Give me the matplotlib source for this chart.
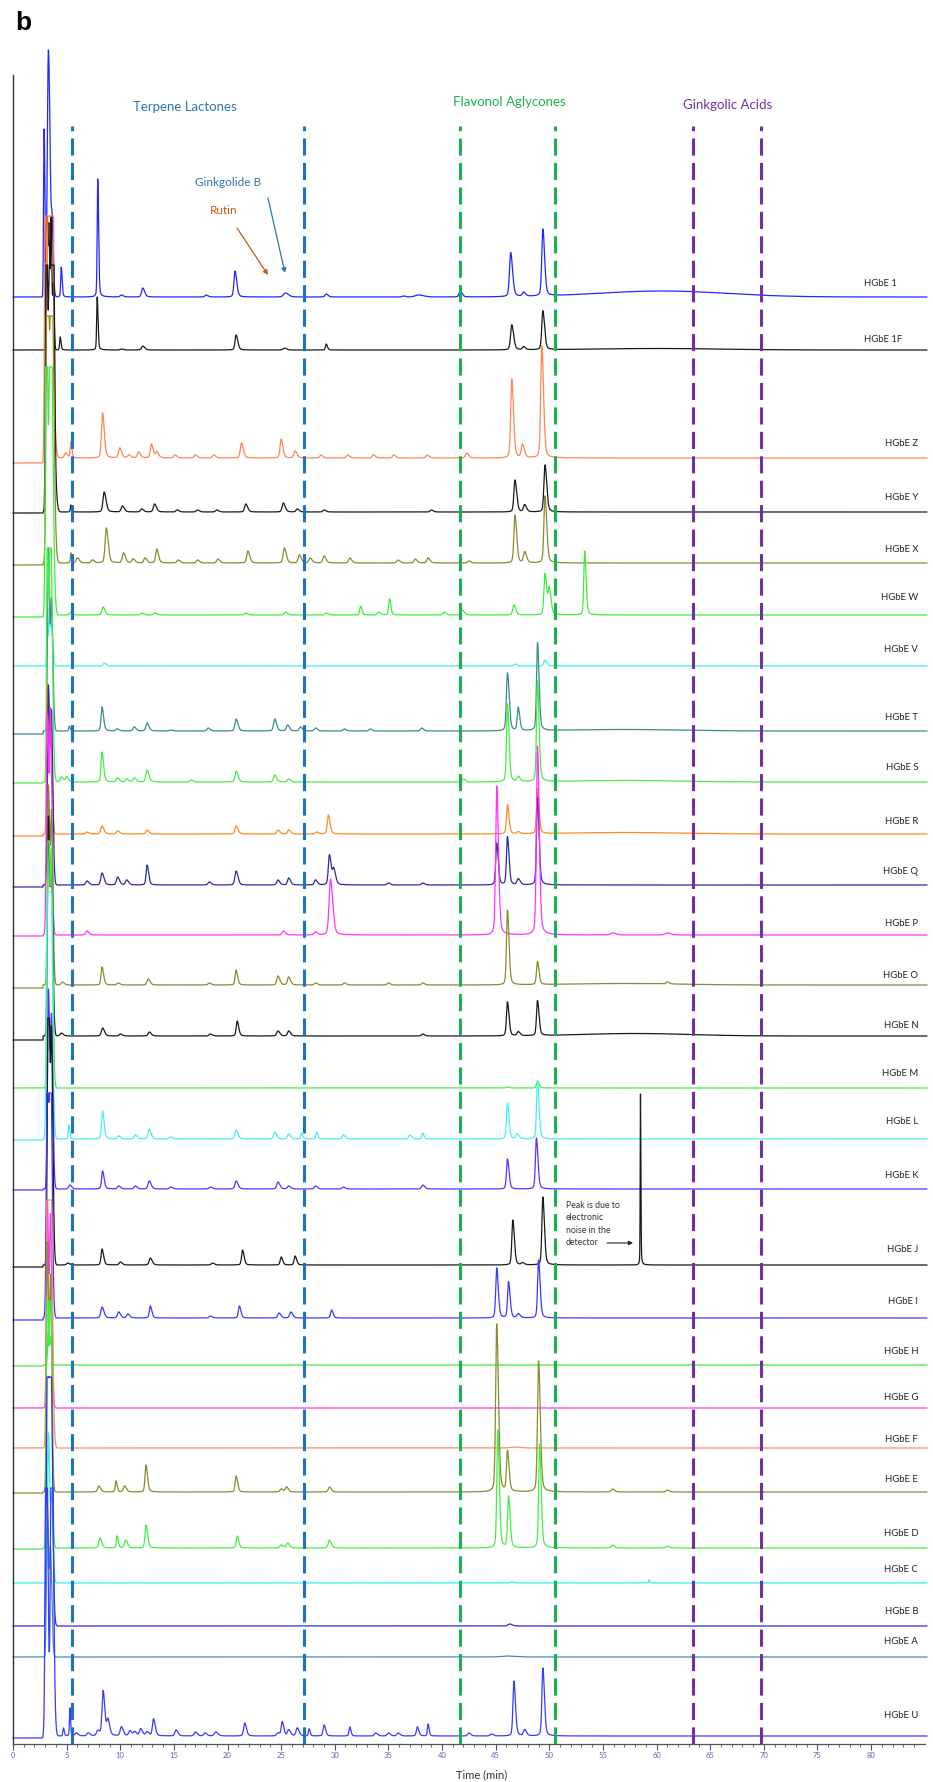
import numpy as np
import matplotlib
matplotlib.use("Agg")
import matplotlib.pyplot as plt

# ---------------------------------------------------------------- samples
sample_names = ["HGbE 1", "HGbE 1F", "HGbE Z", "HGbE Y", "HGbE X", "HGbE W",
                "HGbE V", "HGbE T", "HGbE S", "HGbE R", "HGbE Q", "HGbE P",
                "HGbE O", "HGbE N", "HGbE M", "HGbE L", "HGbE K", "HGbE J",
                "HGbE I", "HGbE H", "HGbE G", "HGbE F", "HGbE E", "HGbE D",
                "HGbE C", "HGbE B", "HGbE A", "HGbE U"]

trace_colors = ["#2424ff", "#1a1a1a", "#ff8555", "#1a1a1a", "#8c8a2c", "#3cee3c",
                "#45f0f0", "#3a8c8c", "#44ee44", "#ff8a22", "#2c2ca2", "#ff33ff",
                "#8c8a2c", "#1a1a1a", "#44ee44", "#45f0f0", "#5c30ff", "#1a1a1a",
                "#3a3aff", "#3cee3c", "#ff33ff", "#ff8c62", "#8c8a2c", "#44ee44",
                "#30f0f0", "#2a2ae6", "#3c8cc8", "#3a3aff"]

# stacking offset of each trace (signal units)
trace_offsets = [1447, 1394, 1286, 1232, 1181, 1129, 1078, 1013, 962, 910,
                 859, 809, 759, 708, 656, 605, 555, 479, 426, 379, 336, 296,
                 252, 196, 161, 118, 87, 8]

# sample label: height above its trace and right end (min)
label_rise = [13, 10, 14, 14, 13, 17, 17, 14, 14, 13, 13, 11, 10, 11, 14, 17,
              13, 16, 16, 13, 11, 9, 12, 15, 13, 15, 15, 20]
label_right = [82.4, 82.9] + [84.4] * 26

# detector saturation ceiling per trace (None = not saturated)
saturation = [None, None, 242, 247, 247, 248, None, None, 234, None, None, None,
              None, None, 247, 247, None, 247, 225, None, None, 248, None, 247,
              None, 249, None, 248]

# baseline level before the injection front (relative to the trace)
pre_injection_shift = [0, 0, -5, -1, -2, -2, 0, -3, -1, -2, -2, -1, -3, -4, 0,
                       -1, -1, -2, -2, -1, 0, 0, -1, -1, 0, 0, 0, -2]

# detected peaks: (retention time [min], height, optional sigma [min])
peaks_1 = [(2.9, 168, 0.05), (3.3, 247, 0.1), (3.65, 60, 0.07), (4.5, 30, 0.05),
           (7.9, 118, 0.05), (10.1, 2), (12.1, 9), (18.0, 2), (20.7, 26, 0.1),
           (25.4, 4, 0.18), (29.2, 3), (36.4, 1), (37.8, 2, 0.3), (41.7, 6),
           (46.4, 44, 0.11), (47.6, 4), (49.4, 67, 0.1), (60.5, 6, 6.0)]
peaks_1F = [(3.15, 133, 0.06), (3.35, 110, 0.06), (3.55, 120, 0.05), (3.75, 60, 0.05),
            (4.4, 13, 0.05), (7.85, 53, 0.05), (10.1, 1), (12.1, 4), (20.8, 15, 0.1),
            (25.3, 2), (29.2, 6, 0.07), (46.5, 25, 0.11), (47.6, 3), (49.4, 39, 0.1),
            (60.0, 1.5, 6.0)]
peaks_Z = [(3.0, 300, 0.06), (3.4, 400, 0.15), (3.7, 250, 0.05), (4.9, 5), (5.4, 16, 0.06),
           (8.35, 45, 0.1), (9.95, 10), (10.8, 3), (11.7, 6), (12.9, 14, 0.1), (13.4, 6),
           (15.1, 3), (17.0, 3), (18.7, 3), (21.3, 15), (25.0, 19, 0.1), (26.3, 7),
           (28.7, 3), (31.2, 3), (33.6, 3), (35.5, 3), (38.6, 3), (42.3, 5),
           (46.5, 79, 0.1), (47.5, 13), (49.3, 112, 0.1)]
peaks_Y = [(3.1, 300, 0.07), (3.5, 350, 0.15), (3.8, 120, 0.05), (5.4, 7, 0.05),
           (8.5, 20), (10.2, 6), (12.0, 3), (13.2, 8), (15.3, 2), (17.2, 2), (19.0, 2),
           (21.7, 8), (25.2, 9), (26.5, 3), (29.0, 2), (39.0, 2), (46.8, 32, 0.1),
           (47.7, 7), (49.6, 47, 0.1)]
peaks_X = [(3.2, 350, 0.1), (3.6, 300, 0.12), (5.4, 10, 0.05), (6.0, 5), (7.4, 3),
           (8.7, 35, 0.11), (10.3, 10), (11.2, 4), (12.3, 5), (13.4, 14, 0.1), (15.4, 3),
           (17.2, 3), (19.1, 4), (21.9, 12), (25.3, 15), (26.7, 8), (27.7, 5), (29.0, 7),
           (31.4, 5), (35.9, 3), (37.5, 4), (38.7, 5), (42.5, 2), (46.8, 48, 0.1),
           (47.7, 11), (49.6, 67, 0.1)]
peaks_W = [(3.1, 350, 0.08), (3.5, 350, 0.12), (5.4, 3), (8.4, 8), (12.0, 2), (13.2, 2),
           (21.7, 2), (25.4, 3), (29.2, 2), (32.4, 9, 0.08), (34.1, 3), (35.1, 16, 0.08),
           (40.2, 3), (41.9, 5), (46.7, 10), (49.6, 41, 0.1), (50.0, 25, 0.1),
           (53.3, 64, 0.08)]
peaks_V = [(3.2, 50, 0.05), (3.4, 55, 0.05), (3.6, 40, 0.07), (8.5, 3), (46.8, 2),
           (49.6, 6)]
peaks_T = [(3.3, 183, 0.08), (3.6, 120, 0.08), (5.25, 5, 0.05), (8.3, 24, 0.09), (9.7, 2),
           (11.3, 4), (12.5, 8), (14.7, 1), (18.2, 3), (20.8, 12), (24.4, 12), (25.6, 6),
           (26.8, 4), (28.2, 3), (30.9, 2), (33.3, 2), (38.1, 3), (46.1, 58, 0.1),
           (47.1, 23, 0.09), (48.9, 88, 0.09), (57.0, 1.5, 5.0)]
peaks_S = [(3.2, 240, 0.07), (3.5, 260, 0.1), (4.5, 5), (5.0, 5), (8.3, 30, 0.09),
           (9.75, 4), (10.6, 3), (11.3, 4), (12.5, 12), (16.6, 2), (20.8, 11), (24.4, 7),
           (25.7, 3), (42.0, 3), (46.1, 78, 0.09), (47.1, 5), (48.9, 101, 0.09),
           (57.0, 1.5, 5.0)]
peaks_R = [(3.2, 150, 0.07), (3.5, 120, 0.08), (6.9, 2), (8.3, 8), (9.75, 3), (12.5, 4),
           (20.8, 8), (24.7, 4), (25.7, 4), (28.3, 2), (29.4, 19, 0.1), (46.1, 29, 0.09),
           (47.1, 2), (48.9, 45, 0.09), (57.0, 1.5, 5.0)]
peaks_Q = [(3.3, 200, 0.09), (3.6, 150, 0.08), (6.9, 4), (8.3, 12), (9.75, 8), (10.6, 5),
           (12.5, 20, 0.09), (18.3, 3), (20.8, 14), (24.7, 5), (25.7, 7), (28.2, 5),
           (29.5, 30, 0.1), (29.9, 15), (35.0, 2), (38.2, 2), (45.1, 42, 0.09),
           (46.1, 48, 0.09), (47.1, 6), (48.9, 88, 0.09)]
peaks_P = [(3.2, 220, 0.09), (3.5, 200, 0.08), (6.9, 4), (25.2, 4), (28.2, 3),
           (29.6, 56, 0.13), (45.1, 149, 0.1), (48.9, 189, 0.1), (55.9, 2, 0.2),
           (61.0, 2, 0.2)]
peaks_O = [(3.3, 200, 0.09), (3.6, 150, 0.08), (4.6, 3), (8.3, 18, 0.09), (9.8, 2),
           (12.6, 6), (18.3, 2), (20.8, 15, 0.09), (24.7, 9), (25.7, 8), (28.2, 2),
           (30.9, 2), (35.0, 2), (38.2, 2), (46.1, 75, 0.09), (48.9, 23, 0.09),
           (57.0, 1.5, 5.0), (61.0, 2)]
peaks_N = [(3.3, 220, 0.09), (3.6, 150, 0.08), (4.5, 3), (8.35, 8), (10.0, 2), (12.7, 4),
           (18.4, 2), (20.9, 15, 0.09), (24.7, 5), (25.7, 5), (38.2, 2), (46.1, 34, 0.09),
           (47.1, 4), (48.9, 35, 0.09), (58.0, 2.5, 5.0)]
peaks_M = [(3.3, 300, 0.09), (3.6, 200, 0.08), (46.1, 1), (48.9, 7, 0.09)]
peaks_L = [(3.2, 300, 0.09), (3.5, 300, 0.1), (5.2, 14, 0.05), (8.35, 28, 0.09),
           (9.85, 3), (11.4, 4), (12.7, 10), (14.7, 2), (20.8, 9), (24.4, 7), (25.7, 5),
           (26.9, 6, 0.07), (28.3, 7, 0.07), (30.8, 4), (37.0, 4), (38.2, 6, 0.07),
           (46.1, 36, 0.09), (47.0, 5), (48.9, 58, 0.09)]
peaks_K = [(3.3, 200, 0.09), (3.6, 150, 0.08), (5.3, 4), (8.35, 18, 0.09), (9.85, 3),
           (11.4, 3), (12.7, 8), (14.7, 2), (18.4, 2), (20.8, 8), (24.7, 7), (25.7, 3),
           (28.2, 3), (30.8, 2), (38.2, 4), (46.1, 30, 0.09), (48.8, 51, 0.09)]
peaks_J = [(3.3, 300, 0.09), (3.6, 200, 0.08), (5.1, 2), (8.3, 16, 0.09), (10.0, 3),
           (12.8, 7), (18.6, 2), (21.4, 15, 0.09), (25.0, 8, 0.09), (26.3, 9, 0.09),
           (46.6, 45, 0.09), (47.5, 2), (49.4, 68, 0.09), (58.5, 171, 0.025)]
peaks_I = [(3.2, 260, 0.09), (3.5, 260, 0.09), (8.3, 11), (9.85, 6), (10.7, 4),
           (12.8, 12, 0.09), (18.4, 2), (21.1, 12, 0.09), (24.8, 5), (25.9, 6),
           (29.7, 8, 0.09), (45.1, 50, 0.09), (46.2, 36, 0.09), (47.1, 4), (49.0, 58, 0.09)]
peaks_H = [(3.3, 35, 0.07), (3.55, 25, 0.06)]
peaks_G = [(3.2, 208, 0.08), (3.5, 180, 0.08)]
peaks_F = [(3.2, 300, 0.09), (3.5, 300, 0.1), (46.7, 1, 0.3)]
peaks_E = [(3.2, 250, 0.08), (3.5, 200, 0.08), (8.0, 6), (9.6, 11, 0.07), (10.4, 6),
           (12.4, 27, 0.09), (20.8, 16, 0.09), (25.0, 3), (25.5, 5), (29.5, 5),
           (45.1, 168, 0.1), (46.1, 40, 0.09), (49.0, 131, 0.1), (55.9, 3), (61.0, 2)]
peaks_D = [(3.2, 300, 0.08), (3.5, 300, 0.08), (8.1, 10), (9.7, 12, 0.07), (10.5, 8),
           (12.4, 23, 0.09), (20.9, 12, 0.09), (25.0, 3), (25.6, 5), (29.5, 8),
           (45.2, 118, 0.09), (46.2, 51, 0.09), (49.1, 104, 0.09), (55.9, 3), (61.0, 2)]
peaks_C = [(3.3, 150, 0.08), (3.6, 80, 0.08), (46.5, 1), (59.3, 3, 0.05)]
peaks_B = [(3.2, 300, 0.08), (3.5, 300, 0.1), (46.3, 2, 0.15)]
peaks_A = [(3.2, 150, 0.08), (3.5, 100, 0.08), (46.0, 1, 0.5)]
peaks_U = [(3.1, 350, 0.09), (3.6, 350, 0.1), (4.7, 8, 0.05), (5.3, 28, 0.04), (5.9, 3),
           (7.0, 3), (7.9, 5), (8.4, 45, 0.1), (8.85, 15, 0.1), (10.1, 9), (10.9, 5),
           (11.35, 4), (11.9, 7), (12.5, 4), (13.1, 17, 0.1), (15.2, 6), (17.0, 4),
           (17.9, 3), (18.9, 4, 0.13), (21.6, 13, 0.1), (24.7, 3), (25.1, 14, 0.09),
           (25.7, 6), (26.5, 8), (27.6, 7, 0.06), (29.0, 11, 0.09), (31.4, 9, 0.07),
           (33.8, 3), (35.0, 3), (35.9, 3), (37.7, 9, 0.09), (38.7, 12, 0.06), (42.5, 3),
           (44.6, 2), (46.7, 55, 0.09), (47.7, 6), (49.4, 68, 0.09)]

all_peaks = [peaks_1, peaks_1F, peaks_Z, peaks_Y, peaks_X, peaks_W, peaks_V, peaks_T,
             peaks_S, peaks_R, peaks_Q, peaks_P, peaks_O, peaks_N, peaks_M, peaks_L,
             peaks_K, peaks_J, peaks_I, peaks_H, peaks_G, peaks_F, peaks_E, peaks_D,
             peaks_C, peaks_B, peaks_A, peaks_U]

# compound-class retention windows (min)
terpene_window = [5.5, 27.1]
flavonol_window = [41.7, 50.5]
ginkgolic_window = [63.4, 69.7]

# ---------------------------------------------------------------- signals
t = np.linspace(0.0, 85.2, 14000)
SOLVENT_FRONT_END = 4.0   # injection-front peaks elute before this time


def chromatogram(peaks, ceiling, shift):
    """Sum of tailing peak shapes on a flat baseline."""
    y = np.zeros_like(t)
    for p in peaks:
        t0, h = p[0], p[1]
        s = p[2] if len(p) > 2 else 0.11
        if s < 1:
            sig = np.where(t < t0, s, 1.6 * s)
            z = (t - t0) / sig
            if t0 < SOLVENT_FRONT_END:
                shape = np.exp(-0.5 * z ** 2)
            else:
                shape = 0.7 * np.exp(-0.5 * z ** 2) + 0.3 / (1 + (z / 1.2) ** 2)
        else:
            shape = np.exp(-0.5 * ((t - t0) / s) ** 2)
        y += h * shape
    if ceiling is not None:
        y = np.minimum(y, ceiling)
    return np.where(t < 2.8, y + shift, y)


W, H = 933, 1782
fig = plt.figure(figsize=(W / 100, H / 100), dpi=100)
ax = fig.add_axes([13 / W, 1 - 1744 / H, (925 - 13) / W, (1744 - 75) / H])
ax.set_xlim(0, 85.03)
ax.set_ylim(0, 1669)


def fx(px):
    return px / W


def fy(py):
    return 1 - py / H


for name, col, off, rise, lx, ceil, shift, pk in zip(
        sample_names, trace_colors, trace_offsets, label_rise, label_right,
        saturation, pre_injection_shift, all_peaks):
    sig = chromatogram(pk, ceil, shift)
    ax.plot(t, off + sig, color=col, lw=0.9, clip_on=False, zorder=2)
    ax.text(lx, off + rise, name, ha="right", va="center", fontsize=6.8,
            family="Lato", color="#222222", zorder=4)

# retention-window markers
dash_top = 1618
for x in terpene_window:
    ax.vlines(x, 0, dash_top, colors="#1a73c2", lw=2.2,
              linestyles=(0, (5.6, 2.4)), zorder=3)
for x in flavonol_window:
    ax.vlines(x, 0, dash_top, colors="#1cb04e", lw=2.2,
              linestyles=(0, (5.6, 2.4)), zorder=3)
for x in ginkgolic_window:
    ax.vlines(x, 0, dash_top, colors="#7030a0", lw=2.2,
              linestyles=(0, (5.6, 2.4)), zorder=3)

# axes styling
for side in ("top", "right"):
    ax.spines[side].set_visible(False)
ax.spines["left"].set_color("#333333")
ax.spines["left"].set_linewidth(1.0)
ax.spines["bottom"].set_color("#555555")
ax.spines["bottom"].set_linewidth(0.9)
ax.set_yticks([])
ax.set_xticks(np.arange(0, 81, 5))
ax.set_xticks(np.arange(0, 85, 1), minor=True)
ax.tick_params(axis="x", which="major", direction="out", length=4, width=0.8,
               color="#555555", labelsize=5.5, labelcolor="#6a5acd", pad=2)
ax.tick_params(axis="x", which="minor", direction="out", length=2.5, width=0.6,
               color="#555555")
for lab in ax.get_xticklabels():
    lab.set_family("Lato")

fig.text(fx(482), fy(1775), "Time (min)", ha="center", va="center",
         fontsize=8, family="Lato", color="#333333")

# panel letter and class headings
fig.text(fx(15), fy(23), "b", ha="left", va="center", fontsize=19,
         fontweight="bold", family="Liberation Sans", color="black")
fig.text(fx(185), fy(107), "Terpene Lactones", ha="center", va="center",
         fontsize=9.5, family="Lato", color="#2e75b6")
fig.text(fx(509), fy(102), "Flavonol Aglycones", ha="center", va="center",
         fontsize=9.5, family="Lato", color="#1cb04e")
fig.text(fx(728), fy(105), "Ginkgolic Acids", ha="center", va="center",
         fontsize=9.5, family="Lato", color="#7030a0")

# compound call-outs
fig.text(fx(228), fy(183), "Ginkgolide B", ha="center", va="center",
         fontsize=8.5, family="Lato", color="#2e75b6")
fig.text(fx(224), fy(211), "Rutin", ha="center", va="center",
         fontsize=8.5, family="Lato", color="#c55a11")
ax.annotate("", xy=(fx(268), fy(275)), xytext=(fx(237), fy(228)),
            xycoords="figure fraction", textcoords="figure fraction",
            arrowprops=dict(arrowstyle="-|>", color="#c55a11", lw=0.9,
                            mutation_scale=7, shrinkA=0, shrinkB=0))
ax.annotate("", xy=(fx(285), fy(273)), xytext=(fx(268), fy(198)),
            xycoords="figure fraction", textcoords="figure fraction",
            arrowprops=dict(arrowstyle="-|>", color="#2e75b6", lw=0.9,
                            mutation_scale=7, shrinkA=0, shrinkB=0))

# detector-noise note
fig.text(fx(566), fy(1224), "Peak is due to\nelectronic\nnoise in the\ndetector",
         ha="left", va="center", fontsize=6.3, family="Lato", color="#333333",
         linespacing=1.45)
ax.annotate("", xy=(fx(633), fy(1243)), xytext=(fx(607), fy(1243)),
            xycoords="figure fraction", textcoords="figure fraction",
            arrowprops=dict(arrowstyle="-|>", color="#222222", lw=0.8,
                            mutation_scale=6, shrinkA=0, shrinkB=0))

fig.savefig("out.png", dpi=100, facecolor="white")
